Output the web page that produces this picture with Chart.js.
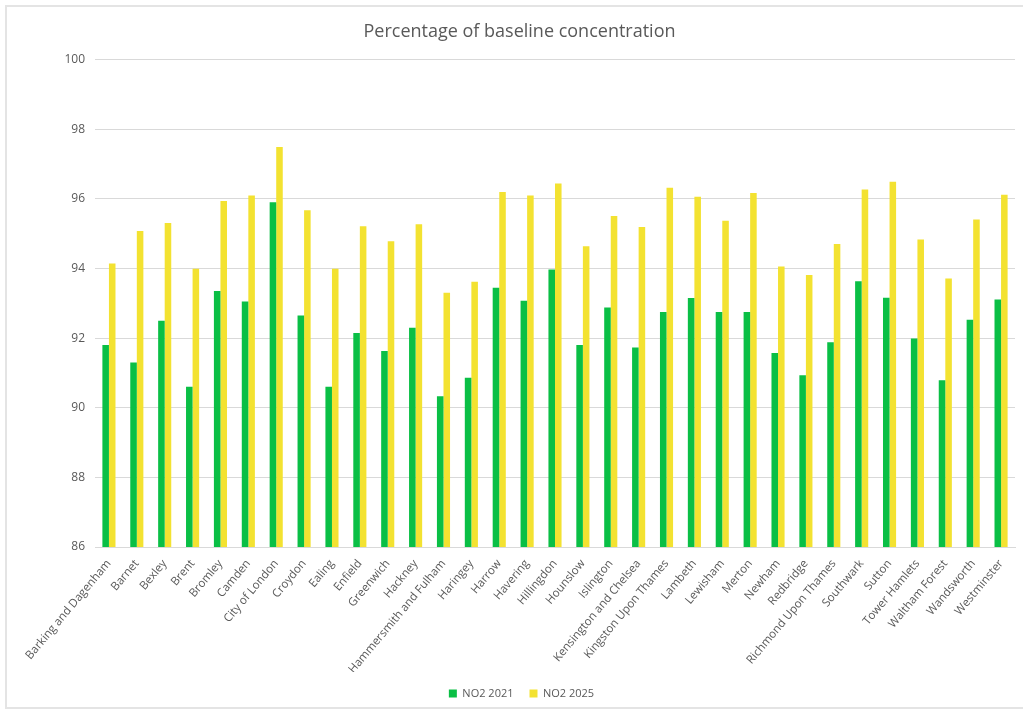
<!DOCTYPE html>
<html>
<head>
<meta charset="utf-8">
<script src="https://cdn.jsdelivr.net/npm/chart.js@4.4.1/dist/chart.umd.min.js"></script>
<style>
html,body{margin:0;padding:0;background:#fff;overflow:hidden;width:1023px;height:711px;}
#frame{position:absolute;left:5px;top:5px;width:1040px;height:704px;border:2px solid #e4e4e4;box-sizing:border-box;}
#wrap{position:absolute;left:0;top:0;width:1023px;height:711px;}
</style>
</head>
<body>
<div id="frame"></div>
<div id="wrap"><canvas id="c"></canvas></div>
<script>
const categories = ["Barking and Dagenham","Barnet","Bexley","Brent","Bromley","Camden","City of London","Croydon","Ealing","Enfield","Greenwich","Hackney","Hammersmith and Fulham","Haringey","Harrow","Havering","Hillingdon","Hounslow","Islington","Kensington and Chelsea","Kingston Upon Thames","Lambeth","Lewisham","Merton","Newham","Redbridge","Richmond Upon Thames","Southwark","Sutton","Tower Hamlets","Waltham Forest","Wandsworth","Westminster"];
const no2_2021 = [91.8,91.3,92.5,90.6,93.35,93.05,95.9,92.65,90.6,92.15,91.63,92.3,90.33,90.86,93.45,93.07,93.97,91.8,92.88,91.73,92.75,93.15,92.75,92.75,91.57,90.93,91.88,93.63,93.16,91.99,90.79,92.53,93.11];
const no2_2025 = [94.14,95.08,95.31,93.99,95.94,96.1,97.49,95.67,93.99,95.21,94.78,95.27,93.3,93.62,96.2,96.1,96.44,94.64,95.51,95.19,96.32,96.06,95.37,96.17,94.06,93.81,94.7,96.27,96.49,94.83,93.71,95.41,96.12];
const seriesNames = ["NO2 2021","NO2 2025"];
const titleText = "Percentage of baseline concentration";
const yMin = 86, yMax = 100, yStep = 2;

const FONT = "'Open Sans', sans-serif";
const GREY = "#595959";

const boxShift = {
  id: 'boxShift',
  afterLayout(chart) {
    const lg = chart.legend;
    if (lg) { lg.left += 14; lg.right += 14; }
    const tb = chart.titleBlock;
    if (tb) { tb.left += 12; tb.right += 12; }
  }
};

new Chart(document.getElementById('c'), {
  type: 'bar',
  data: {
    labels: categories,
    datasets: [
      {label: seriesNames[0], data: no2_2021, backgroundColor: '#0abf45', borderWidth: 0},
      {label: seriesNames[1], data: no2_2025, backgroundColor: '#f3e231', borderWidth: 0}
    ]
  },
  plugins: [boxShift],
  options: {
    responsive: true,
    maintainAspectRatio: false,
    animation: false,
    layout: {padding: {left: 0, right: 8, top: 21, bottom: 2}},
    datasets: {bar: {categoryPercentage: 0.47, barPercentage: 1.0}},
    plugins: {
      title: {display: true, text: titleText, color: GREY, font: {family: FONT, size: 18, weight: 'normal'}, padding: {top: 0, bottom: 17}},
      legend: {position: 'bottom', labels: {color: GREY, font: {family: FONT, size: 11}, boxWidth: 8, boxHeight: 8, padding: 16}},
      tooltip: {enabled: false}
    },
    scales: {
      x: {
        grid: {display: false, drawTicks: false},
        border: {display: true, color: '#d9d9d9'},
        ticks: {color: GREY, font: {family: FONT, size: 11.5}, minRotation: 50, maxRotation: 50, padding: 10, autoSkip: false},
        afterFit: s => { s.height = 125; }
      },
      y: {
        min: yMin, max: yMax,
        grid: {color: '#d9d9d9', drawTicks: false},
        border: {display: false},
        ticks: {stepSize: yStep, color: GREY, font: {family: FONT, size: 12}, padding: 10},
        afterFit: s => { s.width = 95; }
      }
    }
  }
});
</script>
</body>
</html>
